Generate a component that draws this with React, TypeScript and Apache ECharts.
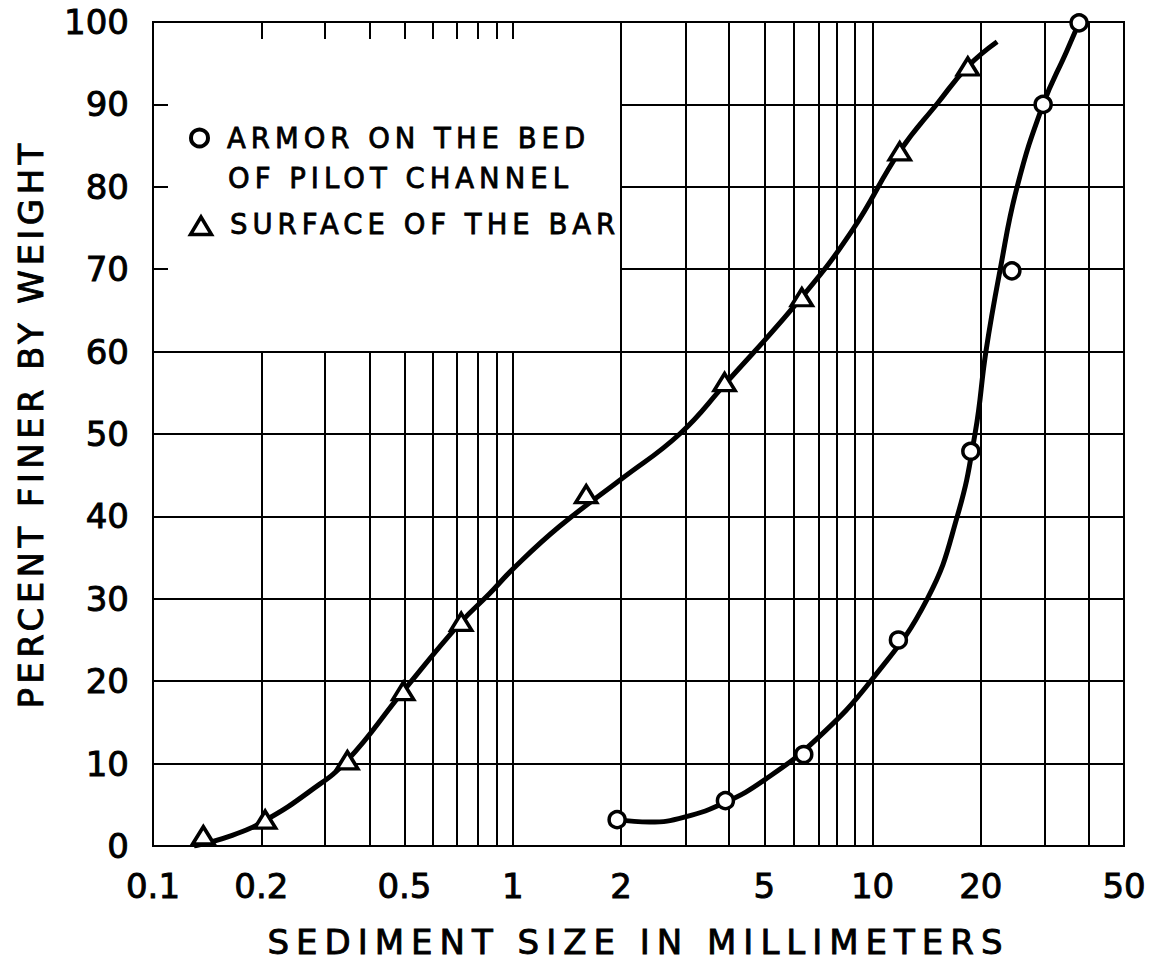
import React, { useEffect, useRef } from "react";
import * as echarts from "echarts";

// ---- data ----
const xLabelValues = [0.1, 0.2, 0.5, 1, 2, 5, 10, 20, 50];
const topTickValues = [0.2, 0.3, 0.4, 0.5, 0.6, 0.7, 0.8, 0.9, 1];
const fullVertical = [2, 3, 4, 5, 6, 7, 8, 9, 10, 20, 30, 40];
const partialVertical = [0.2, 0.3, 0.4, 0.5, 0.6, 0.7, 0.8, 0.9, 1];
const fullHorizontal = [10, 20, 30, 40, 50, 60];
const partialHorizontal = [70, 80, 90];

// Surface of the bar (triangles)
const surfaceSize = [0.138, 0.205, 0.347, 0.496, 0.719, 1.6, 3.88, 6.36, 11.9, 18.4];
const surfacePct = [1.3, 3.2, 10.4, 18.8, 27.2, 42.7, 56.3, 66.6, 84.3, 94.6];
// Armor on the bed of pilot channel (circles)
const armorSize = [1.95, 3.9, 6.44, 11.8, 18.76, 24.4, 29.8, 37.5];
const armorPct = [3.2, 5.5, 11.1, 25.0, 47.9, 69.8, 90.0, 99.9];

// Hand-drawn fitted curves
const surfaceCurveSize = [0.13, 0.166, 0.205, 0.272, 0.347, 0.496, 0.719, 0.861, 1.0, 1.35, 2.0, 2.91, 3.88, 6.36, 8.81, 11.9, 15.2, 18.4, 22.2];
const surfaceCurvePct = [0, 1.3, 3.1, 6.6, 10.4, 18.8, 27.2, 30.6, 33.6, 38.8, 44.5, 50.0, 56.0, 66.6, 74.8, 84.3, 90.2, 94.6, 97.6];
const armorCurveSize = [1.95, 2.4, 3.0, 3.9, 5.0, 7.0, 10.0, 14.2, 17.2, 19.3, 20.66, 22.6, 25.2, 29.8, 34.6, 37.5];
const armorCurvePct = [3.2, 2.9, 3.5, 5.3, 8.0, 13.0, 20.3, 30.0, 40.0, 50.2, 60.0, 69.8, 79.9, 90.0, 96.4, 99.9];

const xName = "SEDIMENT SIZE IN MILLIMETERS";
const yName = "PERCENT FINER BY WEIGHT";
const legendLine1 = "ARMOR ON THE BED";
const legendLine2 = "OF PILOT CHANNEL";
const legendLine3 = "SURFACE OF THE BAR";

const FONT = "'DejaVu Sans', sans-serif";
const lg = (v: number) => Math.log10(v);
const pairs = (xs: number[], ys: number[]) => xs.map((x, i) => [lg(x), ys[i]]);

const spacing: Record<string, number> = {
  [xName]: 7,
  [yName]: 4.4,
  [legendLine1]: 5,
  [legendLine2]: 5,
  [legendLine3]: 5,
};

function applySpacing(root: HTMLElement) {
  root.querySelectorAll("text").forEach((t) => {
    const s = spacing[(t.textContent || "").trim()];
    if (s) (t as any).style.letterSpacing = s + "px";
  });
}

const bold = { textBorderColor: "#000", textBorderWidth: 0.9 };

export default function App() {
  const ref = useRef<HTMLDivElement>(null);
  useEffect(() => {
    if (!ref.current) return;
    const chart = echarts.init(ref.current, undefined, { renderer: "svg" });
    const xMin = lg(0.1);
    const xMax = lg(50);
    const gridLineStyle = { color: "#000", width: 2, type: "solid" as const };
    const markData: any[] = [
      ...fullVertical.map((v) => ({ xAxis: lg(v) })),
      ...fullHorizontal.map((v) => ({ yAxis: v })),
      ...partialVertical.map((v) => [{ coord: [lg(v), 0] }, { coord: [lg(v), 60] }]),
      ...partialHorizontal.map((v) => [{ coord: [lg(2), v] }, { coord: [xMax, v] }]),
    ];
    const legendText = (text: string, x: number, y: number) => ({
      type: "text",
      x,
      y,
      style: {
        text,
        fontSize: 27.5,
        fontFamily: FONT,
        fill: "#000",
        stroke: "#000",
        lineWidth: 0.8,
        verticalAlign: "middle",
        align: "left",
      },
      z: 10,
    });
    chart.setOption({
      animation: false,
      backgroundColor: "#fff",
      textStyle: { fontFamily: FONT, color: "#000" },
      grid: {
        left: 153,
        right: 38,
        top: 22,
        bottom: 117,
        containLabel: false,
        outerBoundsMode: "none",
        show: true,
        borderColor: "#000",
        borderWidth: 2,
        backgroundColor: "transparent",
      },
      xAxis: [
        {
          type: "value",
          min: xMin,
          max: xMax,
          position: "bottom",
          axisLine: { show: false, onZero: false },
          axisTick: { show: false },
          splitLine: { show: false },
          axisLabel: {
            customValues: xLabelValues.map(lg),
            formatter: (v: number) => String(+Math.pow(10, v).toPrecision(3)),
            fontSize: 34,
            fontFamily: FONT,
            color: "#000",
            margin: 23,
            ...bold,
          },
          name: xName,
          nameLocation: "middle",
          nameGap: 83,
          nameTextStyle: { fontSize: 34, lineHeight: 26, fontFamily: FONT, color: "#000", ...bold },
        },
        {
          type: "value",
          min: xMin,
          max: xMax,
          position: "top",
          axisLine: { show: false, onZero: false },
          axisLabel: { show: false },
          splitLine: { show: false },
          axisTick: {
            show: true,
            inside: true,
            length: 17,
            customValues: topTickValues.map(lg),
            lineStyle: { color: "#000", width: 2 },
          },
        },
      ],
      yAxis: {
        type: "value",
        min: 0,
        max: 100,
        interval: 10,
        position: "left",
        axisLine: { show: false, onZero: false },
        axisTick: { show: true, inside: true, length: 15, lineStyle: { color: "#000", width: 2 } },
        splitLine: { show: false },
        axisLabel: { fontSize: 34, fontFamily: FONT, color: "#000", margin: 24, ...bold },
        name: yName,
        nameLocation: "middle",
        nameGap: 105,
        nameTextStyle: { fontSize: 34, fontFamily: FONT, color: "#000", padding: [0, 0, 0, 20], ...bold },
      },
      series: [
        {
          name: "armorCurve",
          type: "line",
          data: pairs(armorCurveSize, armorCurvePct),
          showSymbol: false,
          smooth: 0.45,
          lineStyle: { color: "#000", width: 5 },
          z: 3,
          silent: true,
          markLine: {
            silent: true,
            symbol: ["none", "none"],
            label: { show: false },
            lineStyle: gridLineStyle,
            emphasis: { disabled: true },
            z: 1,
            data: markData,
          },
        },
        {
          name: "surfaceCurve",
          type: "line",
          data: pairs(surfaceCurveSize, surfaceCurvePct),
          showSymbol: false,
          smooth: 0.45,
          lineStyle: { color: "#000", width: 5 },
          z: 3,
          silent: true,
        },
        {
          name: "ARMOR ON THE BED OF PILOT CHANNEL",
          type: "scatter",
          data: pairs(armorSize, armorPct),
          symbol: "circle",
          symbolSize: 16,
          itemStyle: { color: "#fff", borderColor: "#000", borderWidth: 3.5, opacity: 1 },
          z: 5,
        },
        {
          name: "SURFACE OF THE BAR",
          type: "scatter",
          data: pairs(surfaceSize, surfacePct),
          symbol: "triangle",
          symbolSize: [21, 17],
          itemStyle: { color: "#fff", borderColor: "#000", borderWidth: 3.5, opacity: 1 },
          z: 5,
        },
      ],
      graphic: [
        {
          type: "circle",
          shape: { cx: 199.5, cy: 138, r: 8.5 },
          style: { fill: "#fff", stroke: "#000", lineWidth: 4 },
          z: 10,
        },
        {
          type: "polygon",
          shape: { points: [[201, 217], [190.5, 234.5], [211.5, 234.5]] },
          style: { fill: "#fff", stroke: "#000", lineWidth: 3.5 },
          z: 10,
        },
        legendText(legendLine1, 227, 138),
        legendText(legendLine2, 228, 178),
        legendText(legendLine3, 230, 224),
      ],
    });
    applySpacing(ref.current);
    const el = ref.current;
    const onFinished = () => applySpacing(el);
    chart.on("finished", onFinished);
    const t = setTimeout(() => applySpacing(el), 50);
    return () => {
      clearTimeout(t);
      chart.off("finished", onFinished);
      chart.dispose();
    };
  }, []);
  return (
    <div
      ref={ref}
      style={{ position: "absolute", left: 0, top: 0, width: 1162, height: 963, background: "#fff" }}
    />
  );
}
